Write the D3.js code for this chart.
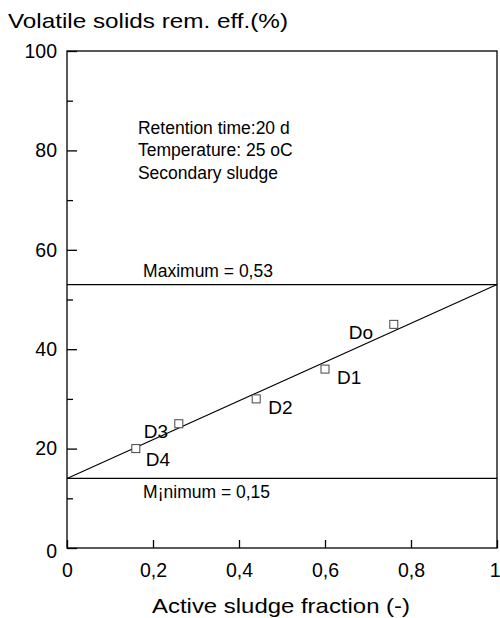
<!DOCTYPE html>
<html><head><meta charset="utf-8">
<script src="https://cdn.jsdelivr.net/npm/d3@7"></script>
<style>body{margin:0;background:#fff}svg{display:block}text{font-family:"Liberation Sans",Arial,sans-serif;fill:#000}</style>
</head><body>
<script>
const pointX = [0.76, 0.60, 0.44, 0.26, 0.16];
const pointY = [45, 36, 30, 25, 20];
const pointLabels = ["Do", "D1", "D2", "D3", "D4"];
const xTicks = [0, 0.2, 0.4, 0.6, 0.8, 1];
const xTickLabels = ["0", "0,2", "0,4", "0,6", "0,8", "1"];
const yTicks = [0, 20, 40, 60, 80, 100];
const yMinorTicks = [10, 30, 50, 70, 90];
const fitLine = [[0, 14], [1, 53]];
const maxLevel = 53, minLevel = 14;
const notes = ["Retention time:20 d", "Temperature: 25 oC", "Secondary sludge"];

const W = 500, H = 618;
const m = {left: 67, right: 3, top: 51, bottom: 70};
const svg = d3.select("body").append("svg").attr("width", W).attr("height", H);
const x = d3.scaleLinear().domain([0, 1]).range([m.left, W - m.right]);
const y = d3.scaleLinear().domain([0, 100]).range([H - m.bottom, m.top]);
const fsTick = 19.5, fsNote = 17.5, fsLevel = 17.5, fsPt = 19, fsTitle = 21;

// frame
svg.append("rect").attr("x", x(0)).attr("y", y(100)).attr("width", x(1) - x(0)).attr("height", y(0) - y(100))
  .attr("fill", "none").attr("stroke", "#000").attr("stroke-width", 1.3);

// x axis ticks (inward)
const xa = svg.append("g").attr("transform", `translate(0,${y(0)})`)
  .call(d3.axisBottom(x).tickValues(xTicks).tickSizeInner(-8).tickSizeOuter(0).tickPadding(15).tickFormat((d, i) => xTickLabels[i]));
xa.select(".domain").remove();
xa.selectAll("line").attr("stroke", "#000").attr("stroke-width", 1.3);
xa.selectAll("text").attr("font-size", fsTick).attr("font-family", "Liberation Sans, Arial, sans-serif").attr("dy", "0.71em");
xa.selectAll(".tick").filter(d => d === 1).select("text").attr("text-anchor", "end").attr("dx", 3);

// y axis
const ya = svg.append("g").attr("transform", `translate(${x(0)},0)`)
  .call(d3.axisLeft(y).tickValues(yTicks).tickSizeInner(-10).tickSizeOuter(0).tickPadding(10));
ya.select(".domain").remove();
ya.selectAll("line").attr("stroke", "#000").attr("stroke-width", 1.3);
ya.selectAll("text").attr("font-size", fsTick).attr("font-family", "Liberation Sans, Arial, sans-serif");
ya.selectAll(".tick").filter(d => d === 0).select("text").attr("dy", "0.5em");
const ym = svg.append("g").attr("transform", `translate(${x(0)},0)`)
  .call(d3.axisLeft(y).tickValues(yMinorTicks).tickSizeInner(-6).tickSizeOuter(0).tickFormat(""));
ym.select(".domain").remove();
ym.selectAll("line").attr("stroke", "#000").attr("stroke-width", 1.3);

// horizontal level lines
[maxLevel, minLevel].forEach(v => {
  svg.append("line").attr("x1", x(0)).attr("x2", x(1)).attr("y1", y(v)).attr("y2", y(v)).attr("stroke", "#000").attr("stroke-width", 1.1);
});
svg.append("text").attr("x", x(0.177)).attr("y", y(maxLevel) - 8).attr("font-size", fsLevel).text("Maximum = 0,53");
svg.append("text").attr("x", x(0.177)).attr("y", y(minLevel) + 20).attr("font-size", fsLevel).text("M\u00a1nimum = 0,15");

// fit line
svg.append("path").datum(fitLine).attr("d", d3.line().x(d => x(d[0])).y(d => y(d[1])))
  .attr("fill", "none").attr("stroke", "#000").attr("stroke-width", 1.1);

// points
const pts = pointX.map((v, i) => ({x: v, y: pointY[i], l: pointLabels[i]}));
svg.selectAll("rect.pt").data(pts).enter().append("rect").attr("class", "pt")
  .attr("x", d => x(d.x) - 4).attr("y", d => y(d.y) - 4).attr("width", 8).attr("height", 8)
  .attr("fill", "#fff").attr("stroke", "#444").attr("stroke-width", 1);
const labOff = [[-45, 15], [12, 15], [12, 15], [-35, 14], [10, 17]];
svg.selectAll("text.pl").data(pts).enter().append("text").attr("class", "pl")
  .attr("x", (d, i) => x(d.x) + labOff[i][0]).attr("y", (d, i) => y(d.y) + labOff[i][1])
  .attr("font-size", fsPt).text(d => d.l);

// notes
svg.selectAll("text.note").data(notes).enter().append("text").attr("class", "note")
  .attr("x", x(0.165)).attr("y", (d, i) => y(83.3) + i * 22.5).attr("font-size", fsNote).text(d => d);

// titles
svg.append("text").attr("x", 8).attr("y", 28).attr("font-size", fsTitle)
  .attr("textLength", 280).attr("lengthAdjust", "spacingAndGlyphs").text("Volatile solids rem. eff.(%)");
svg.append("text").attr("x", 152).attr("y", 613).attr("font-size", fsTitle)
  .attr("textLength", 258).attr("lengthAdjust", "spacingAndGlyphs").text("Active sludge fraction (-)");
</script>
</body></html>
